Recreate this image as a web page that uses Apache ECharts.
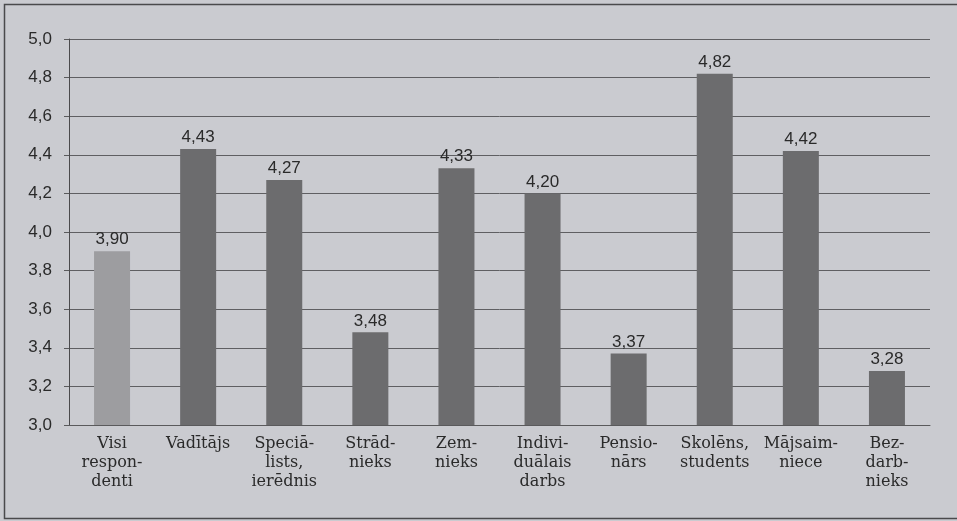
<!DOCTYPE html>
<html>
<head>
<meta charset="utf-8">
<script src="https://cdn.jsdelivr.net/npm/echarts@6/dist/echarts.min.js"></script>
<style>
  html, body { margin: 0; padding: 0; background: #cacbd0; }
  #chart { width: 957px; height: 521px; }
</style>
</head>
<body>
<div id="chart"></div>
<script>
// Respondent groups (x axis) and their mean scores
const categories = [
  'Visi\nrespon-\ndenti', 'Vadītājs', 'Speciā-\nlists,\nierēdnis', 'Strād-\nnieks',
  'Zem-\nnieks', 'Indivi-\nduālais\ndarbs', 'Pensio-\nnārs', 'Skolēns,\nstudents',
  'Mājsaim-\nniece', 'Bez-\ndarb-\nnieks'
];
const values = [3.90, 4.43, 4.27, 3.48, 4.33, 4.20, 3.37, 4.82, 4.42, 3.28];
const yTicks = { min: 3.0, max: 5.0, step: 0.2 };

const comma = v => v.toFixed(2).replace('.', ',');

const chart = echarts.init(document.getElementById('chart'), null, { renderer: 'canvas' });
chart.setOption({
  backgroundColor: '#cacbd0',
  animation: false,
  grid: { left: 69, right: 27, top: 39, bottom: 96, containLabel: false },
  graphic: [{
    type: 'rect',
    shape: { x: 4.5, y: 4.5, width: 980, height: 514 },
    style: { fill: 'none', stroke: '#4a4a4c', lineWidth: 1.5 },
    silent: true
  }],
  xAxis: {
    type: 'category',
    data: categories,
    axisLine: { show: true, lineStyle: { color: '#5a5a5c', width: 1 } },
    axisTick: { show: false },
    axisLabel: {
      interval: 0,
      margin: 9,
      color: '#2a2a2a',
      fontFamily: '"DejaVu Serif", "Liberation Serif", serif',
      fontSize: 16,
      lineHeight: 19
    }
  },
  yAxis: {
    type: 'value',
    min: yTicks.min,
    max: yTicks.max,
    interval: yTicks.step,
    axisLine: { show: true, lineStyle: { color: '#4a4a4c', width: 1 } },
    axisTick: { show: true, length: 5, lineStyle: { color: '#5a5a5c' } },
    splitLine: { show: true, lineStyle: { color: '#5f5f62', width: 1 } },
    axisLabel: {
      margin: 17,
      color: '#2a2a2a',
      fontFamily: '"Liberation Sans", Arial, sans-serif',
      fontSize: 17,
      formatter: v => v.toFixed(1).replace('.', ',')
    }
  },
  series: [{
    type: 'bar',
    barWidth: 36,
    data: values.map((v, i) => ({
      value: v,
      itemStyle: { color: i === 0 ? '#9d9da0' : '#6c6c6e' }
    })),
    label: {
      show: true,
      position: 'top',
      distance: 3,
      color: '#2a2a2a',
      fontFamily: '"Liberation Sans", Arial, sans-serif',
      fontSize: 17,
      formatter: p => comma(p.value)
    }
  }]
});
</script>
</body>
</html>
